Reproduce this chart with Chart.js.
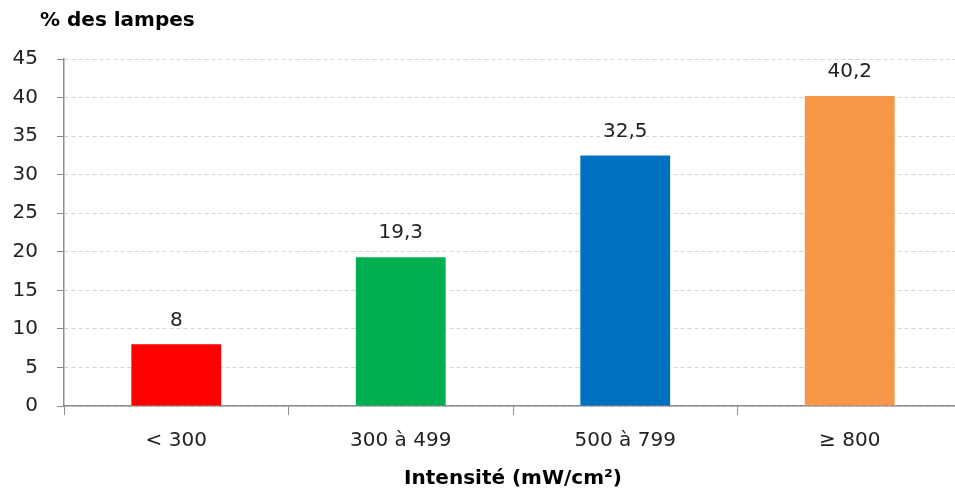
<!DOCTYPE html>
<html>
<head>
<meta charset="utf-8">
<script src="https://cdn.jsdelivr.net/npm/chart.js@4"></script>
<style>
  body { margin: 0; background: #fff; overflow: hidden; }
  #wrap { width: 962px; height: 490px; }
</style>
</head>
<body>
<div id="wrap"><canvas id="graf"></canvas></div>
<script>
const categories = ["< 300", "300 à 499", "500 à 799", "≥ 800"];
const valeurs = [8, 19.3, 32.5, 40.2];
const couleurs = ["#FF0000", "#00B050", "#0070C0", "#F79646"];
const yTicks = [0, 5, 10, 15, 20, 25, 30, 35, 40, 45];

const police = "'DejaVu Sans', sans-serif";

// etiquettes des valeurs au-dessus des barres + titre de l'axe y
const etiquettes = {
    id: "etiquettes",
    afterDatasetsDraw(chart){
        const ctx = chart.ctx;
        ctx.save();
        ctx.font = "20px " + police;
        ctx.fillStyle = "#222";
        ctx.textAlign = "center";
        ctx.textBaseline = "middle";
        chart.getDatasetMeta(0).data.forEach((barre, i) => {
            ctx.fillText(String(valeurs[i]).replace(".", ","), barre.x, barre.y - 24);
        });
        ctx.font = "bold 20px " + police;
        ctx.textAlign = "left";
        ctx.fillStyle = "#000";
        ctx.fillText("% des lampes", 40, 21);
        ctx.restore();
    }
};

new Chart(document.getElementById("graf"), {
    type: "bar",
    data: {
        labels: categories,
        datasets: [{
            data: valeurs,
            backgroundColor: couleurs,
            barPercentage: 0.40,
            categoryPercentage: 1
        }]
    },
    options: {
        responsive: true,
        maintainAspectRatio: false,
        animation: false,
        layout: { padding: { top: 59, right: 0, left: 0, bottom: 0 } },
        plugins: {
            legend: { display: false },
            tooltip: { enabled: false }
        },
        scales: {
            x: {
                grid: {
                    offset: true,
                    drawOnChartArea: false,
                    drawTicks: true,
                    tickLength: 9,
                    color: "#8c8c8c"
                },
                border: { color: "#8c8c8c", width: 1.5 },
                ticks: {
                    color: "#222",
                    font: { family: police, size: 20 },
                    padding: 14
                },
                title: {
                    display: true,
                    text: "Intensité (mW/cm²)",
                    color: "#000",
                    font: { family: police, size: 20, weight: "bold" },
                    padding: { top: 4, bottom: -1 }
                },
                afterFit(scale){ scale.height = 84; }
            },
            y: {
                min: 0,
                max: 45,
                afterBuildTicks(scale){
                    scale.ticks = yTicks.map(v => ({ value: v }));
                },
                grid: {
                    color: "#d4d4d4",
                    tickColor: "#8c8c8c",
                    tickLength: 7,
                    drawTicks: true
                },
                // en v4, dash s'applique aux lignes de grille
                border: { color: "#8c8c8c", width: 1.5, dash: [4, 3] },
                ticks: {
                    color: "#222",
                    font: { family: police, size: 20 },
                    padding: 19
                },
                afterFit(scale){ scale.width = 64; }
            }
        }
    },
    plugins: [etiquettes]
});
</script>
</body>
</html>
